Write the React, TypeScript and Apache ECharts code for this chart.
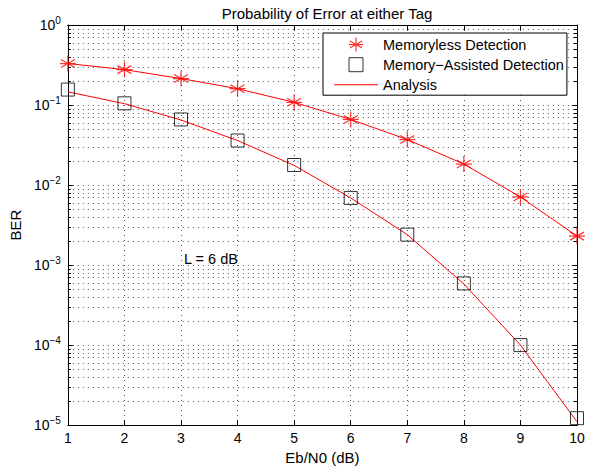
import React, { useEffect, useRef } from "react";
import * as echarts from "echarts";

const ebn0 = [1, 2, 3, 4, 5, 6, 7, 8, 9, 10];
const memorylessSim = [0.33, 0.277, 0.214, 0.16, 0.108, 0.066, 0.037, 0.0183, 0.0071, 0.0023];
const memoryAssistedSim = [0.156, 0.105, 0.066, 0.036, 0.0178, 0.0069, 0.0024, 0.00059, 0.0001, 1.22e-5];
const memorylessAnalysis = [0.33, 0.277, 0.214, 0.16, 0.108, 0.066, 0.037, 0.0183, 0.0071, 0.0023];
const memoryAssistedAnalysis = [0.146, 0.104, 0.065, 0.036, 0.0176, 0.0069, 0.0024, 0.00058, 0.0001, 1.1e-5];
const decades = [-5, -4, -3, -2, -1];
const minorMantissas = [2, 3, 4, 5, 6, 7, 8, 9];

const FONT = "Liberation Sans, Arial, Helvetica, sans-serif";
const STAR = "path://M0,-1L0,1M-0.87,-0.5L0.87,0.5M-0.87,0.5L0.87,-0.5M-1,0L1,0";
const SQUARE_ICON = "path://M-1,-1L1,-1L1,1L-1,1Z";
const LINE_ICON = "path://M0,6.5L44,6.5L44,7.5L0,7.5Z";

export default function App() {
  const ref = useRef<HTMLDivElement>(null);
  useEffect(() => {
    if (!ref.current) return;
    const chart = echarts.init(ref.current, null, { renderer: "svg" });
    const minorVals: number[][] = [];
    decades.forEach((d) => minorMantissas.forEach((m) => minorVals.push([1, m * Math.pow(10, d)])));
    const pair = (ys: number[]) => ebn0.map((x, i) => [x, ys[i]]);
    const supFmt = (v: number) => {
      const e = Math.round(Math.log10(v));
      return `{b|10}{s|${e < 0 ? "\u2212" + -e : e}}`;
    };
    const gridLine = { show: true, lineStyle: { color: "#555", type: [1, 4] as any, width: 1 } };
    chart.setOption({
      animation: false,
      backgroundColor: "#fff",
      textStyle: { fontFamily: FONT },
      title: {
        text: "Probability of Error at either Tag",
        left: 322,
        textAlign: "center",
        top: 1,
        textStyle: { fontSize: 15, fontWeight: "normal", color: "#000", fontFamily: FONT },
      },
      grid: { left: 67, right: 18, top: 25, bottom: 42, show: false },
      legend: {
        left: 323,
        top: 33,
        orient: "vertical",
        padding: [4, 3, 3, 11],
        itemGap: 3,
        itemWidth: 44,
        itemHeight: 14,
        borderColor: "#000",
        borderWidth: 1,
        backgroundColor: "#fff",
        textStyle: { fontSize: 14.5, color: "#000", fontFamily: FONT },
        data: [
          { name: "Memoryless Detection", icon: STAR, itemStyle: { color: "#ff0000", borderColor: "#ff0000", borderWidth: 1.2 } },
          { name: "Memory\u2212Assisted Detection", icon: SQUARE_ICON, itemStyle: { color: "none", borderColor: "#000", borderWidth: 1 } },
          { name: "Analysis", icon: LINE_ICON, itemStyle: { color: "#ff0000", borderWidth: 0 } },
        ],
      },
      xAxis: [
        {
          type: "value",
          min: 1,
          max: 10,
          interval: 1,
          name: "Eb/N0 (dB)",
          nameLocation: "middle",
          nameGap: 24,
          nameTextStyle: { fontSize: 15, color: "#000", fontFamily: FONT },
          axisLine: { show: true, lineStyle: { color: "#000", width: 1 } },
          axisTick: { show: true, inside: true, length: 5, lineStyle: { color: "#000" } },
          axisLabel: { fontSize: 14, color: "#000", margin: 6, fontFamily: FONT },
          splitLine: gridLine,
        },
        {
          type: "value",
          position: "top",
          min: 1,
          max: 10,
          interval: 1,
          axisLine: { show: true, lineStyle: { color: "#000", width: 1 } },
          axisTick: { show: true, inside: true, length: 5, lineStyle: { color: "#000" } },
          axisLabel: { show: false },
          splitLine: { show: false },
        },
      ],
      yAxis: [
        {
          type: "log",
          logBase: 10,
          min: 1e-5,
          max: 1,
          name: "BER",
          nameLocation: "middle",
          nameGap: 42,
          nameRotate: 90,
          nameTextStyle: { fontSize: 15, color: "#000", fontFamily: FONT },
          axisLine: { show: true, lineStyle: { color: "#000", width: 1 } },
          axisTick: { show: true, inside: true, length: 5, lineStyle: { color: "#000" } },
          axisLabel: {
            color: "#000",
            margin: 7,
            formatter: supFmt,
            rich: {
              b: { fontSize: 14, color: "#000", fontFamily: FONT },
              s: { fontSize: 10, color: "#000", fontFamily: FONT, padding: [0, 0, 10, 0] },
            },
          },
          splitLine: gridLine,
        },
        {
          type: "log",
          logBase: 10,
          min: 1e-5,
          max: 1,
          position: "right",
          axisLine: { show: true, lineStyle: { color: "#000", width: 1 } },
          axisTick: { show: true, inside: true, length: 5, lineStyle: { color: "#000" } },
          axisLabel: { show: false },
          splitLine: { show: false },
        },
      ],
      series: [
        {
          type: "custom",
          name: "minorGrid",
          silent: true,
          xAxisIndex: 0,
          yAxisIndex: 0,
          data: minorVals,
          z: 1,
          renderItem: (params: any, api: any) => {
            const cs = params.coordSys;
            const p = api.coord([api.value(0), api.value(1)]);
            const y = Math.round(p[1]) + 0.5;
            const x0 = cs.x;
            const x1 = cs.x + cs.width;
            return {
              type: "group",
              children: [
                { type: "line", shape: { x1: x0, y1: y, x2: x1, y2: y }, style: { stroke: "#555", lineWidth: 1, lineDash: [1, 4] } },
                { type: "line", shape: { x1: x0, y1: y, x2: x0 + 3, y2: y }, style: { stroke: "#000", lineWidth: 1 } },
                { type: "line", shape: { x1: x1 - 3, y1: y, x2: x1, y2: y }, style: { stroke: "#000", lineWidth: 1 } },
              ],
            };
          },
        },
        {
          type: "line",
          name: "Analysis",
          data: pair(memorylessAnalysis),
          symbol: "none",
          lineStyle: { color: "#ff0000", width: 1 },
          itemStyle: { color: "#ff0000" },
          z: 3,
        },
        {
          type: "line",
          name: "Analysis",
          data: pair(memoryAssistedAnalysis),
          symbol: "none",
          lineStyle: { color: "#ff0000", width: 1 },
          itemStyle: { color: "#ff0000" },
          z: 3,
        },
        {
          type: "scatter",
          name: "Memoryless Detection",
          data: pair(memorylessSim),
          symbol: STAR,
          symbolSize: 16,
          clip: false,
          itemStyle: { color: "#ff0000", borderColor: "#ff0000", borderWidth: 1.2 },
          z: 4,
        },
        {
          type: "scatter",
          name: "Memory\u2212Assisted Detection",
          data: pair(memoryAssistedSim),
          symbol: "rect",
          symbolSize: 13,
          clip: false,
          itemStyle: { color: "none", borderColor: "#000", borderWidth: 1 },
          z: 4,
        },
      ],
      graphic: [
        {
          type: "text",
          left: 184,
          top: 251,
          style: { text: "L = 6 dB", fontSize: 14.5, fill: "#000", fontFamily: FONT },
        },
      ],
    });
    return () => chart.dispose();
  }, []);
  return <div ref={ref} style={{ position: "fixed", left: 0, top: 0, width: 595, height: 470 }} />;
}
